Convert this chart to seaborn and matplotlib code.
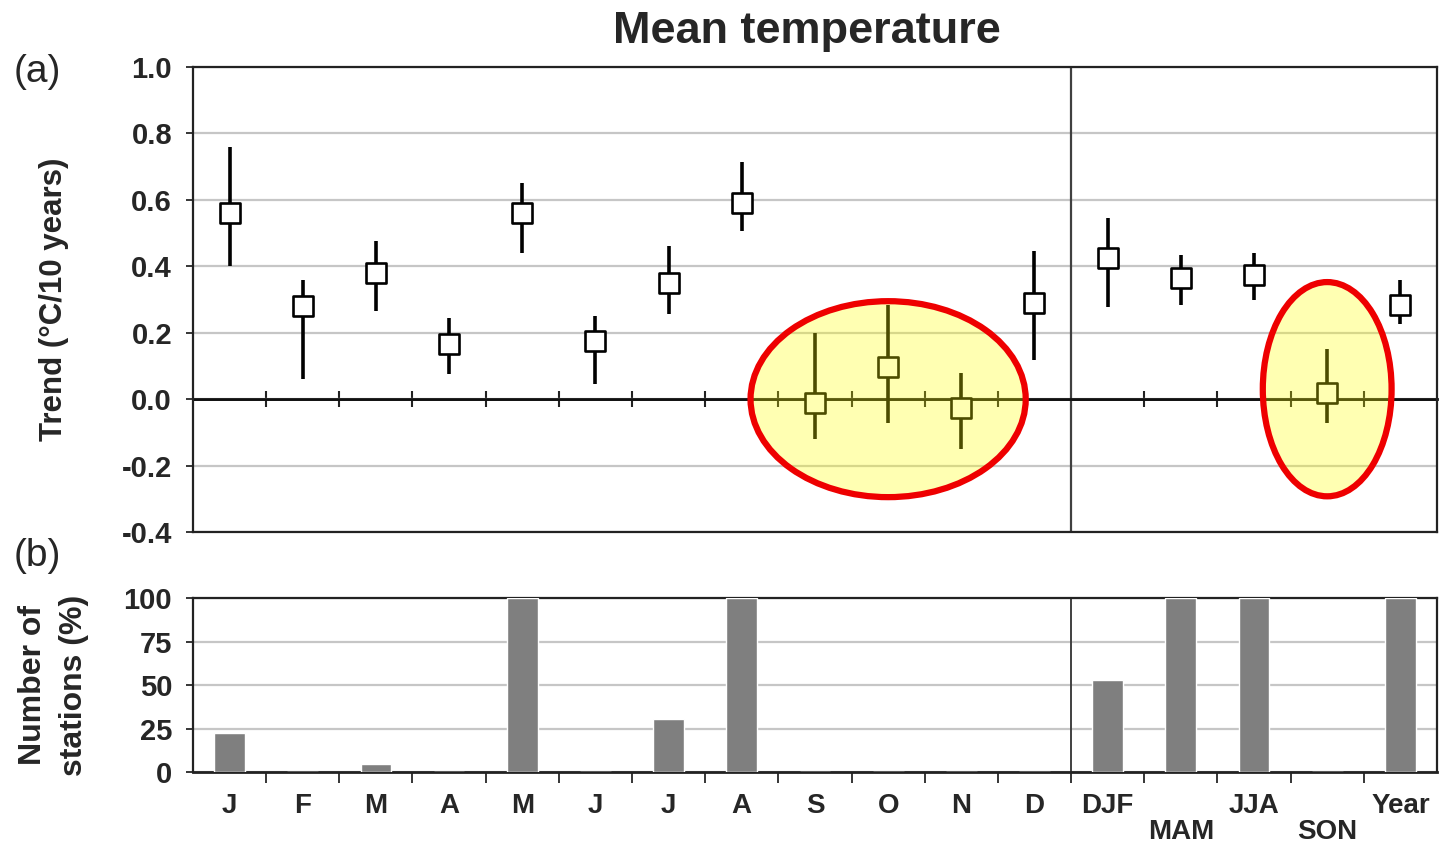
import numpy as np
import seaborn as sns
from matplotlib import pyplot as plt
from matplotlib.patches import Ellipse

# categories (unique keys) and the labels printed under them
periods = ['Jan', 'Feb', 'Mar', 'Apr', 'May', 'Jun', 'Jul', 'Aug', 'Sep', 'Oct',
           'Nov', 'Dec', 'DJF', 'MAM', 'JJA', 'SON', 'Year']
period_labels = ['J', 'F', 'M', 'A', 'M', 'J', 'J', 'A', 'S', 'O', 'N', 'D',
                 'DJF', 'MAM', 'JJA', 'SON', 'Year']

# (a) trend in degC / 10 years with its range
trend = [0.56, 0.28, 0.38, 0.165, 0.56, 0.175, 0.35, 0.59, -0.012, 0.098,
         -0.027, 0.29, 0.425, 0.366, 0.373, 0.02, 0.285]
trend_hi = [0.76, 0.36, 0.475, 0.245, 0.65, 0.25, 0.46, 0.715, 0.20, 0.285,
            0.08, 0.445, 0.544, 0.433, 0.44, 0.15, 0.36]
trend_lo = [0.40, 0.06, 0.265, 0.075, 0.44, 0.045, 0.255, 0.505, -0.12, -0.072,
            -0.15, 0.118, 0.276, 0.285, 0.30, -0.072, 0.225]

# (b) share of stations with significant trend (%)
stations_pct = [22.5, 0, 4.5, 0, 100, 0, 30.5, 100, 0, 0, 0, 0, 53, 100, 100, 0, 100]

# highlighted groups: (first, last) category index
highlight = [(8, 10), (15, 15)]

sns.set_style('white')
plt.rcParams['font.family'] = ['Liberation Sans', 'DejaVu Sans']
plt.rcParams['axes.unicode_minus'] = False

fig = plt.figure(figsize=(14.41, 8.43), dpi=100)
ax = fig.add_axes([0.1339, 0.3689, 0.8633, 0.5516])
axb = fig.add_axes([0.1339, 0.0842, 0.8633, 0.2064])

xpos = np.arange(len(periods))
n_months = 12
sep = n_months - 0.5
bounds = np.arange(0.5, len(periods) - 1, 1.0)

# ---- (a) trends
ax.vlines(xpos, trend_lo, trend_hi, color='black', lw=2.6, zorder=3)
sns.scatterplot(x=xpos, y=trend, ax=ax, marker='s', s=15 ** 2, color='white',
                edgecolor='black', linewidth=1.9, zorder=4)
ax.set_xlim(-0.5, len(periods) - 0.5)
ax.set_ylim(-0.4, 1.0)
ax.set_yticks(np.arange(-0.4, 1.01, 0.2))
ax.yaxis.set_major_formatter(plt.FormatStrFormatter('%.1f'))
ax.set_xticks([])
ax.grid(axis='y', color='#c6c6c6', lw=1.6)
ax.axvline(sep, color='#404040', lw=1.6, zorder=2)
ax.axhline(0, color='#111111', lw=2.0, zorder=2.5)
for s in ax.spines.values():
    s.set_color('#222222')
    s.set_linewidth(1.6)
ax.tick_params(axis='y', direction='out', length=5, width=1.3, pad=10,
               labelsize=21, left=True)
for lab in ax.get_yticklabels():
    lab.set_fontweight('bold')
ax.set_ylabel('Trend (°C/10 years)', fontsize=22.5, fontweight='bold', labelpad=38)

# zero line with boundary ticks
zero = ax.secondary_xaxis(0.4 / 1.4)
zero.set_xticks([b for b in bounds if b != sep])
zero.set_xticklabels([])
zero.tick_params(direction='inout', length=12, width=1.5, color='#222222')
zero.spines['bottom'].set_linewidth(2.0)
zero.spines['bottom'].set_color('#111111')

for first, last in highlight:
    cx = (first + last) / 2
    wd = last - first + 1.76
    ht = 0.59 if first != last else 0.645
    cy = 0.0 if first != last else 0.03
    ax.add_patch(Ellipse((cx, cy), wd, ht, facecolor=(1, 1, 0, 0.3),
                         edgecolor='#ee0000', lw=4.5, zorder=6, clip_on=False))

# ---- (b) stations
sns.barplot(x=periods, y=stations_pct, ax=axb, color='#7f7f7f', width=0.42,
            saturation=1, zorder=3)
axb.set_xlim(-0.5, len(periods) - 0.5)
axb.set_ylim(0, 100)
axb.set_yticks([0, 25, 50, 75, 100])
axb.grid(axis='y', color='#c6c6c6', lw=1.6)
axb.axvline(sep, color='#404040', lw=1.4, zorder=2)
for s in axb.spines.values():
    s.set_color('#222222')
    s.set_linewidth(1.6)
axb.spines['bottom'].set_linewidth(2.0)
axb.set_xticks(xpos)
axb.set_xticklabels(['\n' + lab if i in (13, 15) else lab
                     for i, lab in enumerate(period_labels)])
axb.set_xticks(bounds, minor=True)
axb.tick_params(axis='x', which='major', length=0, pad=15, labelsize=20)
axb.tick_params(axis='x', which='minor', direction='out', length=8, width=1.3,
                bottom=True)
axb.tick_params(axis='y', direction='out', length=5, width=1.3, pad=10,
                labelsize=21, left=True)
for lab in axb.get_xticklabels():
    lab.set_fontweight('bold')
    lab.set_linespacing(1.0)
for lab in axb.get_yticklabels():
    lab.set_fontweight('bold')
axb.set_xlabel('')
axb.set_ylabel('Number of\nstations (%)', fontsize=23, fontweight='bold',
               labelpad=25, linespacing=1.45)

fig.text(0.56, 1 - 31 / 843, 'Mean temperature', ha='center', va='center',
         fontsize=32.5, fontweight='bold')
fig.text(37 / 1441, 1 - 72 / 843, '(a)', ha='center', va='center', fontsize=28)
fig.text(37 / 1441, 1 - 556 / 843, '(b)', ha='center', va='center', fontsize=28)

fig.savefig('out.png', dpi=100)
plt.close(fig)
